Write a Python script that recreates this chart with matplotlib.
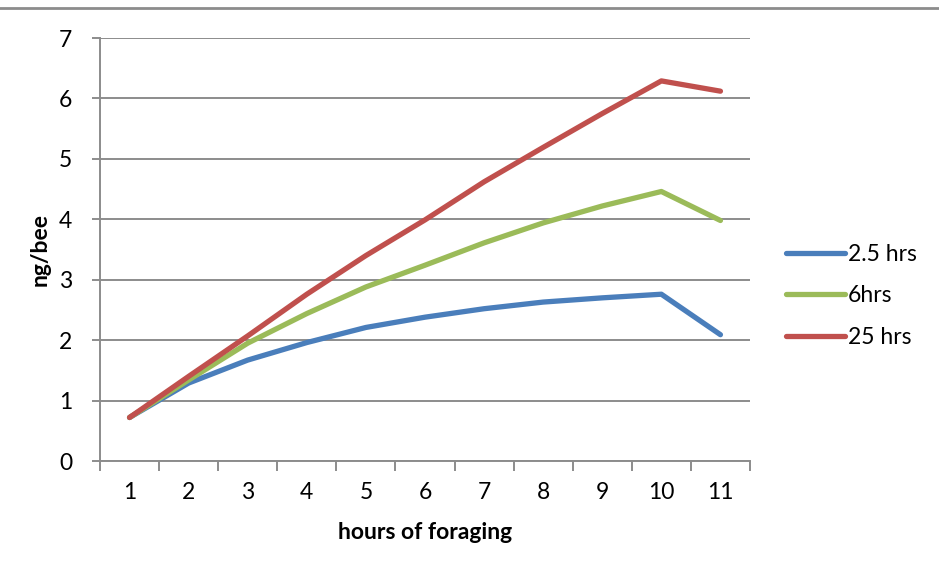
import matplotlib
matplotlib.use("Agg")
import matplotlib.pyplot as plt
from matplotlib.lines import Line2D

hours = [1, 2, 3, 4, 5, 6, 7, 8, 9, 10, 11]
s_25 = [0.72, 1.29, 1.67, 1.96, 2.21, 2.38, 2.52, 2.63, 2.70, 2.76, 2.09]
s_6 = [0.72, 1.34, 1.95, 2.44, 2.88, 3.24, 3.61, 3.94, 4.22, 4.46, 3.98]
s_25h = [0.72, 1.40, 2.07, 2.76, 3.40, 3.99, 4.62, 5.19, 5.75, 6.29, 6.12]
labels = ["2.5 hrs", "6hrs", "25 hrs"]
colors = ["#4A7EBB", "#9BBB59", "#C0504D"]

plt.rcParams['font.family'] = ['Lato', 'DejaVu Sans']
FS = 16.5

fig = plt.figure(figsize=(9.39, 5.81), dpi=100)
W, H = 939, 581
ax = fig.add_axes([100 / W, 1 - 461 / H, 650 / W, 423 / H])

for vals, lab, c in zip([s_25, s_6, s_25h], labels, colors):
    ax.plot(hours, vals, color=c, lw=3.8, label=lab, solid_capstyle='round',
            solid_joinstyle='round', zorder=3)

ax.set_xlim(0.5, 11.5)
ax.set_ylim(0, 7)
ax.set_yticks(range(0, 8))
ax.yaxis.grid(True, color='#8C8C8C', lw=1.4)
ax.set_axisbelow(True)
ax.set_xticks(hours)
ax.set_xticklabels([str(h) for h in hours])
ax.set_xticks([h - 0.5 for h in hours] + [11.5], minor=True)
ax.tick_params(axis='x', which='major', length=0, pad=15, labelsize=FS)
ax.tick_params(axis='x', which='minor', length=7, width=1.4, color='#8C8C8C', direction='out')
ax.tick_params(axis='y', length=6, width=1.4, color='#8C8C8C', direction='out', pad=14, labelsize=FS)
for sp in ['top', 'right']:
    ax.spines[sp].set_visible(False)
for sp in ['left', 'bottom']:
    ax.spines[sp].set_color('#8C8C8C')
    ax.spines[sp].set_linewidth(1.4)

ax.set_xlabel("hours of foraging", fontsize=FS, fontweight='bold', labelpad=14)
ax.set_ylabel("ng/bee", fontsize=FS, fontweight='bold', labelpad=6)

fig.legend(loc='center left', bbox_to_anchor=(765 / W, 1 - 296 / H), frameon=False,
           fontsize=FS, handlelength=2.6, handletextpad=0.12, labelspacing=0.9)

fig.add_artist(Line2D([0, 1], [1 - 8 / H, 1 - 8 / H], transform=fig.transFigure,
                      color='#8C8C8C', lw=2))

fig.savefig("out.png", dpi=100)
